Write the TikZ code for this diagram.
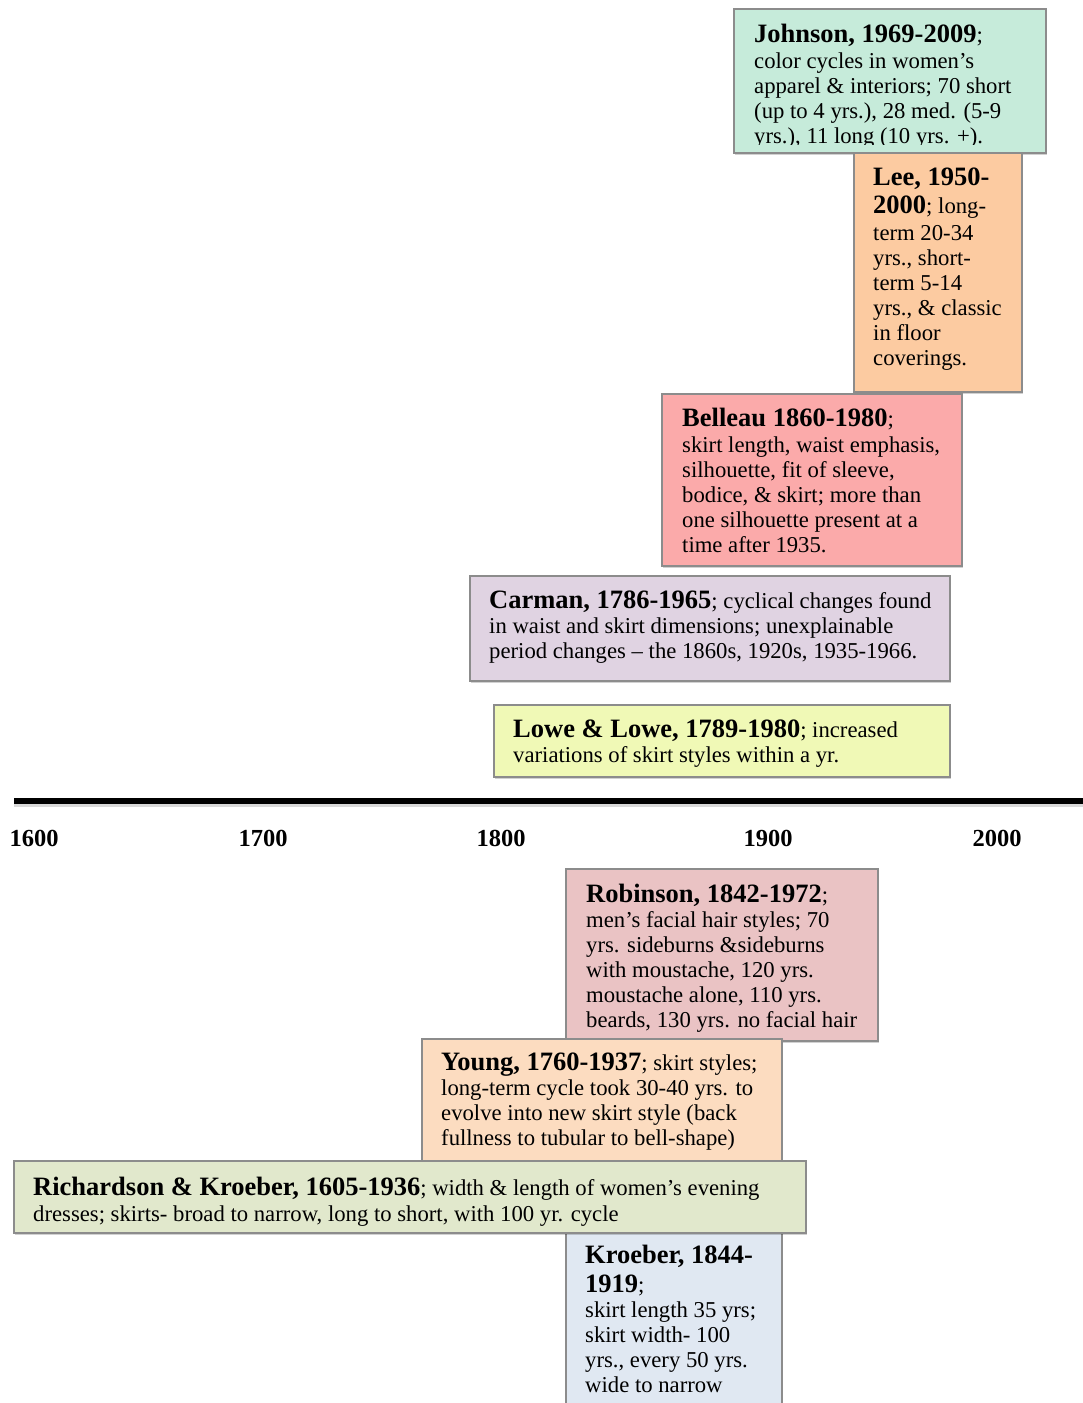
\documentclass[tikz,border=0pt]{standalone}
\usepackage{fontspec}
\setmainfont{Liberation Serif}
\usetikzlibrary{shadows}
\definecolor{cJohnson}{HTML}{C6EBDA}
\definecolor{cLee}{HTML}{FCCBA1}
\definecolor{cBelleau}{HTML}{FBAAAA}
\definecolor{cCarman}{HTML}{E0D3E2}
\definecolor{cLowe}{HTML}{F0F9B6}
\definecolor{cRobinson}{HTML}{EAC3C4}
\definecolor{cYoung}{HTML}{FCDCC0}
\definecolor{cRichardson}{HTML}{E1E8CC}
\definecolor{cKroeber}{HTML}{E0E8F2}
\definecolor{boxgray}{HTML}{8C8C8C}
\newcommand{\tl}[1]{{\fontsize{26.5}{25}\selectfont\bfseries #1}}
\newcommand{\lns}[1]{\begin{tabular}[t]{@{}l@{}}#1\end{tabular}}
\tikzset{
  box/.style={draw=boxgray, line width=1.6pt, anchor=north west, inner sep=0pt, outer sep=0pt,
    drop shadow={shadow xshift=0.8pt, shadow yshift=-1.8pt, opacity=0.18, fill=black}},
  txt/.style={anchor=base west, inner sep=0pt, font=\fontsize{22.7}{25}\selectfont},
  yr/.style={anchor=base, inner sep=0pt, font=\fontsize{24.5}{25}\selectfont\bfseries},
}
\begin{document}
\begin{tikzpicture}[x=1pt,y=-1pt]
\useasboundingbox (0,0) rectangle (1083,1403);
\fill[white] (0,0) rectangle (1083,1403);

% ---- upper boxes ----
\node[box, fill=cJohnson, minimum width=312, minimum height=144] (johnson) at (734,9) {};
\begin{scope}
\clip (734,9) rectangle (1046,144);
\node[txt] (johnsontxt) at (754,42) {\lns{\tl{Johnson, 1969-2009}; \\[1pt]
color cycles in women’s\\
apparel \& interiors; 70 short\\
(up to 4 yrs.), 28 med. (5-9\\
yrs.), 11 long (10 yrs. +).}};
\end{scope}

\node[box, fill=cLee, minimum width=168, minimum height=239] (lee) at (854,153) {};
\node[txt] (leetxt) at (873,185) {\lns{\tl{Lee, 1950-}\\[3pt]
\tl{2000}; long-\\[2pt]
term 20-34\\
yrs., short-\\
term 5-14\\
yrs., \& classic\\
in floor\\
coverings.}};

\node[box, fill=cBelleau, minimum width=300, minimum height=172] (belleau) at (662,394) {};
\node[txt] (belleautxt) at (682,426) {\lns{\tl{Belleau 1860-1980};\\[1pt]
skirt length, waist emphasis,\\
silhouette, fit of sleeve,\\
bodice, \& skirt; more than\\
one silhouette present at a\\
time after 1935.}};

\node[box, fill=cCarman, minimum width=480, minimum height=105] (carman) at (470,576) {};
\node[txt] (carmantxt) at (489,608) {\lns{\tl{Carman, 1786-1965}; cyclical changes found\\
in waist and skirt dimensions; unexplainable\\
period changes – the 1860s, 1920s, 1935-1966.}};

\node[box, fill=cLowe, minimum width=456, minimum height=72] (lowe) at (494,705) {};
\node[txt] (lowetxt) at (513,737) {\lns{\tl{Lowe \& Lowe, 1789-1980}; increased\\
variations of skirt styles within a yr.}};

% ---- time axis ----
\coordinate (axL) at (14,801);
\coordinate (axR) at (1095,801);
\draw[line width=4pt, black, opacity=0.15] ([yshift=-4pt]axL) -- ([yshift=-4pt]axR);
\draw[line width=5.5pt, black] (axL) -- (axR);
\node[yr] (y1600) at (34,846) {1600};
\node[yr] (y1700) at (263,846) {1700};
\node[yr] (y1800) at (501,846) {1800};
\node[yr] (y1900) at (768,846) {1900};
\node[yr] (y2000) at (997,846) {2000};

% ---- lower boxes ----
\node[box, fill=cRobinson, minimum width=312, minimum height=172] (robinson) at (566,869) {};
\node[txt] (robinsontxt) at (586,902) {\lns{\tl{Robinson, 1842-1972};\\
men’s facial hair styles; 70\\
yrs. sideburns \&sideburns\\
with moustache, 120 yrs.\\
moustache alone, 110 yrs.\\
beards, 130 yrs. no facial hair}};

\node[box, fill=cYoung, minimum width=360, minimum height=122] (young) at (422,1039) {};
\node[txt] (youngtxt) at (441,1070) {\lns{\tl{Young, 1760-1937}; skirt styles;\\
long-term cycle took 30-40 yrs. to\\
evolve into new skirt style (back\\
fullness to tubular to bell-shape)}};

\node[box, fill=cKroeber, minimum width=216, minimum height=190] (kroeber) at (566,1233) {};
\node[txt] (kroebertxt) at (585,1263) {\lns{\tl{Kroeber, 1844-}\\[4pt]
\tl{1919};\\
skirt length 35 yrs;\\
skirt width- 100\\
yrs., every 50 yrs.\\
wide to narrow}};

\node[box, fill=cRichardson, minimum width=792, minimum height=72] (richardson) at (14,1161) {};
\node[txt] (richardsontxt) at (33,1195) {\lns{\tl{Richardson \& Kroeber, 1605-1936}; width \& length of women’s evening\\[1pt]
dresses; skirts- broad to narrow, long to short, with 100 yr. cycle}};
\end{tikzpicture}
\end{document}
